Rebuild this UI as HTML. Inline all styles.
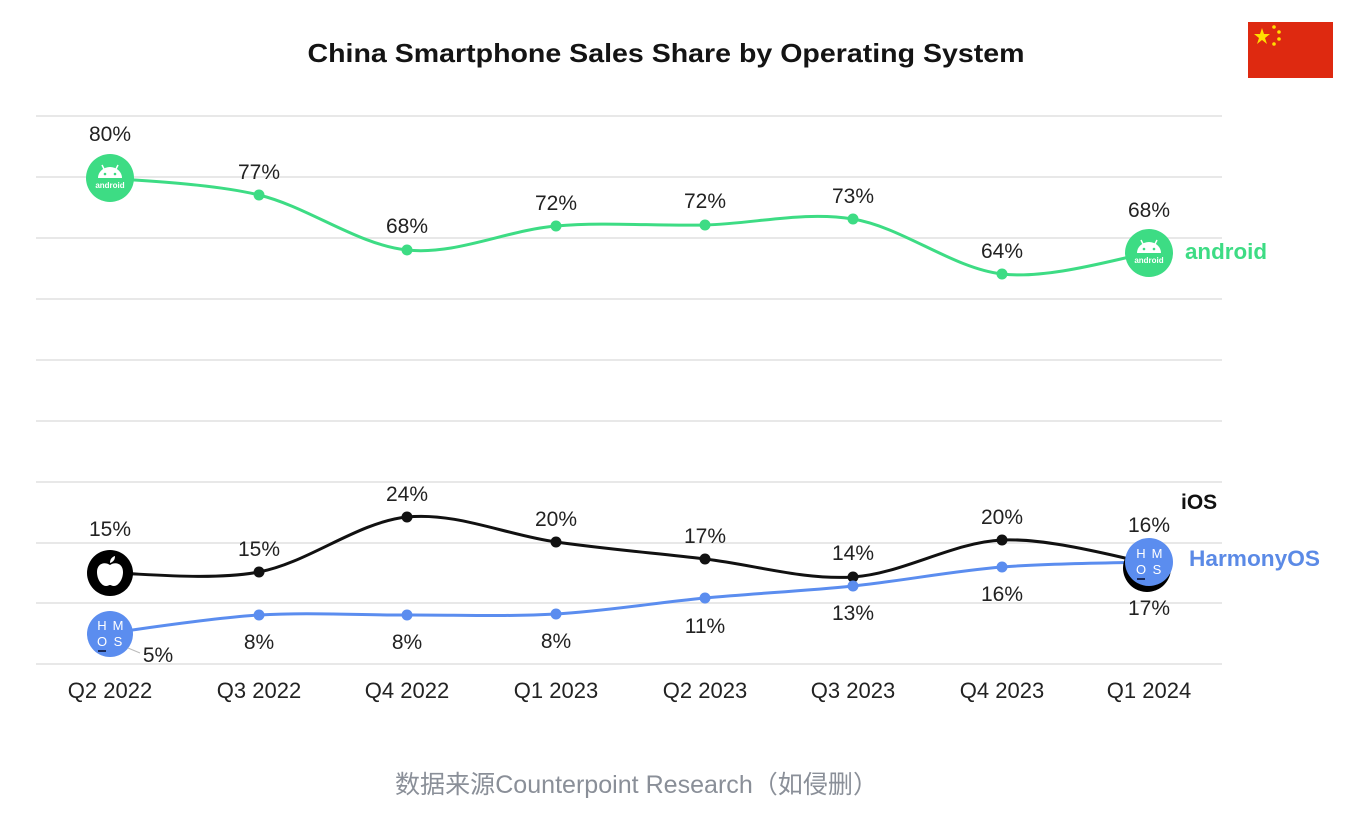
<!DOCTYPE html>
<html><head><meta charset="utf-8">
<style>
html,body{margin:0;padding:0;background:#fff;}
svg{display:block;}
</style></head>
<body>
<svg width="1368" height="818" viewBox="0 0 1368 818" xmlns="http://www.w3.org/2000/svg">
<rect width="1368" height="818" fill="#fff"/>
<!-- title -->
<text x="666" y="62" text-anchor="middle" font-family="Liberation Sans, Arial, sans-serif" font-weight="bold" font-size="26" fill="#141414" textLength="717" lengthAdjust="spacingAndGlyphs">China Smartphone Sales Share by Operating System</text>
<!-- flag -->
<rect x="1248" y="22" width="85" height="56" fill="#de2910"/>
<polygon fill="#ffde00" points="1262,28 1264,34 1270,34 1265,38 1267,44 1262,40 1257,44 1259,38 1254,34 1260,34"/>
<circle cx="1274" cy="27" r="1.8" fill="#ffde00"/>
<circle cx="1279" cy="32" r="1.8" fill="#ffde00"/>
<circle cx="1279" cy="39" r="1.8" fill="#ffde00"/>
<circle cx="1274" cy="44" r="1.8" fill="#ffde00"/>
<!-- grid -->
<g stroke="#e8e8e8" stroke-width="2">
<line x1="36" y1="116" x2="1222" y2="116"/>
<line x1="36" y1="177" x2="1222" y2="177"/>
<line x1="36" y1="238" x2="1222" y2="238"/>
<line x1="36" y1="299" x2="1222" y2="299"/>
<line x1="36" y1="360" x2="1222" y2="360"/>
<line x1="36" y1="421" x2="1222" y2="421"/>
<line x1="36" y1="482" x2="1222" y2="482"/>
<line x1="36" y1="543" x2="1222" y2="543"/>
<line x1="36" y1="603" x2="1222" y2="603"/>
<line x1="36" y1="664" x2="1222" y2="664"/>
</g>
<!-- android line -->
<path fill="none" stroke="#3ddc84" stroke-width="3" d="M110,178 C134.8,180.8 209.5,183 259,195 C308.5,207 357.5,244.8 407,250 C456.5,255.2 506.3,230.2 556,226 C605.7,221.8 655.5,226.2 705,225 C754.5,223.8 803.5,210.8 853,219 C902.5,227.2 952.7,268.3 1002,274 C1051.3,279.7 1124.5,256.5 1149,253"/>
<!-- iOS line -->
<path fill="none" stroke="#111" stroke-width="3" d="M110,573 C134.8,572.8 209.5,581.3 259,572 C308.5,562.7 357.5,522 407,517 C456.5,512 506.3,535 556,542 C605.7,549 655.5,553.2 705,559 C754.5,564.8 803.5,580.2 853,577 C902.5,573.8 952.7,542.3 1002,540 C1051.3,537.7 1124.5,559.2 1149,563"/>
<!-- Harmony line -->
<path fill="none" stroke="#5b8def" stroke-width="3" d="M110,633 C134.8,630 209.5,618 259,615 C308.5,612 357.5,615.2 407,615 C456.5,614.8 506.3,616.8 556,614 C605.7,611.2 655.5,602.7 705,598 C754.5,593.3 803.5,591.2 853,586 C902.5,580.8 952.7,571 1002,567 C1051.3,563 1124.5,562.8 1149,562"/>
<!-- dots -->
<g fill="#3ddc84">
<circle cx="259" cy="195" r="5.5"/><circle cx="407" cy="250" r="5.5"/><circle cx="556" cy="226" r="5.5"/><circle cx="705" cy="225" r="5.5"/><circle cx="853" cy="219" r="5.5"/><circle cx="1002" cy="274" r="5.5"/>
</g>
<g fill="#111">
<circle cx="259" cy="572" r="5.5"/><circle cx="407" cy="517" r="5.5"/><circle cx="556" cy="542" r="5.5"/><circle cx="705" cy="559" r="5.5"/><circle cx="853" cy="577" r="5.5"/><circle cx="1002" cy="540" r="5.5"/>
</g>
<g fill="#5b8def">
<circle cx="259" cy="615" r="5.5"/><circle cx="407" cy="615" r="5.5"/><circle cx="556" cy="614" r="5.5"/><circle cx="705" cy="598" r="5.5"/><circle cx="853" cy="586" r="5.5"/><circle cx="1002" cy="567" r="5.5"/>
</g>
<!-- android icons -->
<g id="and1">
<circle cx="110" cy="178" r="24" fill="#3ddc84"/>
<path d="M98,178 A12,11 0 0 1 122,178 Z" fill="#fff"/>
<line x1="102" y1="165" x2="104" y2="169" stroke="#fff" stroke-width="1.5"/>
<line x1="118" y1="165" x2="116" y2="169" stroke="#fff" stroke-width="1.5"/>
<circle cx="105" cy="174" r="1.3" fill="#3ddc84"/><circle cx="115" cy="174" r="1.3" fill="#3ddc84"/>
<text x="110" y="188" text-anchor="middle" font-family="Liberation Sans, sans-serif" font-size="8" font-weight="bold" fill="#fff">android</text>
</g>
<g>
<circle cx="1149" cy="253" r="24" fill="#3ddc84"/>
<path d="M1137,253 A12,11 0 0 1 1161,253 Z" fill="#fff"/>
<line x1="1141" y1="240" x2="1143" y2="244" stroke="#fff" stroke-width="1.5"/>
<line x1="1157" y1="240" x2="1155" y2="244" stroke="#fff" stroke-width="1.5"/>
<circle cx="1144" cy="249" r="1.3" fill="#3ddc84"/><circle cx="1154" cy="249" r="1.3" fill="#3ddc84"/>
<text x="1149" y="263" text-anchor="middle" font-family="Liberation Sans, sans-serif" font-size="8" font-weight="bold" fill="#fff">android</text>
</g>
<!-- apple icon -->
<circle cx="110" cy="573" r="23" fill="#000"/>
<path fill="#fff" d="M110,565 C104,561 97,564 97,572 C97,580 102,586 106,586 C108,586 109,585 110,585 C111,585 112,586 114,586 C118,586 123,580 123,572 C123,564 116,561 110,565 Z"/>
<path fill="#fff" d="M110,563 C110,559 112,557 115,556 C115,560 113,562 110,563 Z"/>
<!-- iOS hidden icon at Q1 2024 -->
<circle cx="1147" cy="568" r="24" fill="#000"/>
<!-- harmony icons -->
<circle cx="110" cy="634" r="23" fill="#5b8def"/>
<g font-family="Liberation Sans, sans-serif" font-size="13" fill="#fff" text-anchor="middle">
<text x="102" y="630">H</text><text x="118" y="630">M</text>
<text x="102" y="646">O</text><text x="118" y="646">S</text>
</g>
<rect x="98" y="650" width="8" height="2" fill="#1a2a5a"/>
<line x1="128" y1="648" x2="140" y2="653" stroke="#bbb" stroke-width="1"/>
<circle cx="1149" cy="562" r="24" fill="#5b8def"/>
<g font-family="Liberation Sans, sans-serif" font-size="13" fill="#fff" text-anchor="middle">
<text x="1141" y="558">H</text><text x="1157" y="558">M</text>
<text x="1141" y="574">O</text><text x="1157" y="574">S</text>
</g>
<rect x="1137" y="578" width="8" height="2" fill="#1a2a5a"/>
<!-- value labels -->
<g font-family="Liberation Sans, Arial, sans-serif" font-size="21" fill="#222" text-anchor="middle">
<text x="110" y="141">80%</text>
<text x="259" y="179">77%</text>
<text x="407" y="233">68%</text>
<text x="556" y="210">72%</text>
<text x="705" y="208">72%</text>
<text x="853" y="203">73%</text>
<text x="1002" y="258">64%</text>
<text x="1149" y="217">68%</text>
<text x="110" y="536">15%</text>
<text x="259" y="556">15%</text>
<text x="407" y="501">24%</text>
<text x="556" y="526">20%</text>
<text x="705" y="543">17%</text>
<text x="853" y="560">14%</text>
<text x="1002" y="524">20%</text>
<text x="1149" y="532">16%</text>
<text x="158" y="662">5%</text>
<text x="259" y="649">8%</text>
<text x="407" y="649">8%</text>
<text x="556" y="648">8%</text>
<text x="705" y="633">11%</text>
<text x="853" y="620">13%</text>
<text x="1002" y="601">16%</text>
<text x="1149" y="615">17%</text>
</g>
<!-- x labels -->
<g font-family="Liberation Sans, Arial, sans-serif" font-size="22" fill="#222" text-anchor="middle">
<text x="110" y="698">Q2 2022</text>
<text x="259" y="698">Q3 2022</text>
<text x="407" y="698">Q4 2022</text>
<text x="556" y="698">Q1 2023</text>
<text x="705" y="698">Q2 2023</text>
<text x="853" y="698">Q3 2023</text>
<text x="1002" y="698">Q4 2023</text>
<text x="1149" y="698">Q1 2024</text>
</g>
<!-- legends -->
<text x="1185" y="259" font-family="Liberation Sans, Arial, sans-serif" font-weight="bold" font-size="22" fill="#3ddc84" textLength="82" lengthAdjust="spacingAndGlyphs">android</text>
<text x="1181" y="509" font-family="Liberation Sans, Arial, sans-serif" font-weight="bold" font-size="21" fill="#111">iOS</text>
<text x="1189" y="566" font-family="Liberation Sans, Arial, sans-serif" font-weight="bold" font-size="22" fill="#5b8ae6" textLength="131" lengthAdjust="spacingAndGlyphs">HarmonyOS</text>
<!-- caption -->
<text x="395" y="793" font-family="Liberation Sans, 'Noto Sans CJK SC', sans-serif" font-size="25" fill="#8a8f98" textLength="483" lengthAdjust="spacingAndGlyphs">数据来源Counterpoint Research（如侵删）</text>
</svg>
</body></html>
